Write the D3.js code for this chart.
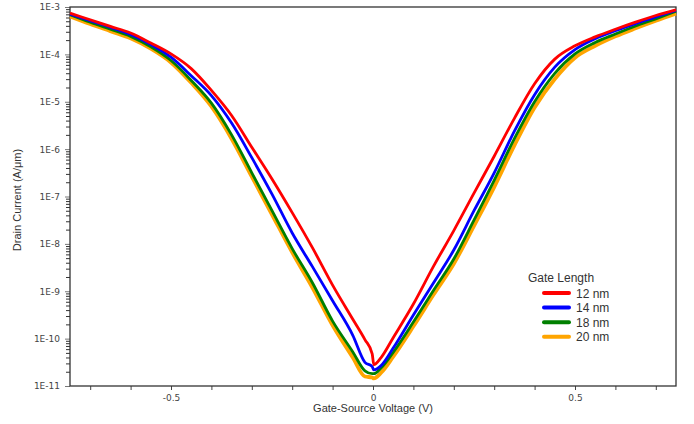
<!DOCTYPE html>
<html>
<head>
<meta charset="utf-8">
<script src="https://cdn.jsdelivr.net/npm/d3@7"></script>
<style>
  body { margin: 0; background: #fff; }
  svg { display: block; }
</style>
</head>
<body>
<svg id="chart"></svg>
<script>
// Gate-source voltage grid (V)
const voltage = [-0.75, -0.7, -0.65, -0.6, -0.55, -0.5, -0.45, -0.4, -0.35, -0.3, -0.25, -0.2, -0.15, -0.1, -0.05, -0.02, -0.002,
                 0.002, 0.02, 0.05, 0.1, 0.15, 0.2, 0.25, 0.3, 0.35, 0.4, 0.45, 0.5, 0.55, 0.6, 0.65, 0.7, 0.75];

// Drain current, log10(A/um)
const logId12 = [-3.13, -3.27, -3.41, -3.55, -3.76, -3.99, -4.30, -4.76, -5.29, -5.96, -6.63, -7.34, -8.08, -8.87, -9.59, -10.02, -10.32,
                 -10.55, -10.40, -9.98, -9.27, -8.47, -7.72, -6.93, -6.15, -5.35, -4.62, -4.10, -3.82, -3.63, -3.47, -3.32, -3.18, -3.06];
const logId14 = [-3.15, -3.29, -3.43, -3.58, -3.79, -4.06, -4.45, -4.87, -5.45, -6.18, -6.95, -7.77, -8.48, -9.20, -9.93, -10.50, -10.59,
                 -10.66, -10.57, -10.20, -9.50, -8.82, -8.13, -7.30, -6.50, -5.62, -4.85, -4.27, -3.90, -3.67, -3.50, -3.35, -3.21, -3.07];
const logId18 = [-3.16, -3.32, -3.47, -3.62, -3.84, -4.13, -4.55, -5.03, -5.70, -6.50, -7.30, -8.10, -8.82, -9.63, -10.28, -10.68, -10.74,
                 -10.74, -10.62, -10.29, -9.65, -8.98, -8.32, -7.50, -6.66, -5.78, -5.00, -4.40, -3.99, -3.75, -3.57, -3.40, -3.25, -3.09];
const logId20 = [-3.20, -3.36, -3.51, -3.66, -3.88, -4.17, -4.60, -5.10, -5.78, -6.58, -7.38, -8.18, -8.92, -9.72, -10.40, -10.80, -10.82,
                 -10.84, -10.72, -10.38, -9.74, -9.07, -8.42, -7.62, -6.80, -5.92, -5.12, -4.52, -4.07, -3.82, -3.62, -3.45, -3.29, -3.14];

const seriesNames = ["12 nm", "14 nm", "18 nm", "20 nm"];
const seriesColors = ["#ff0000", "#0000ff", "#008000", "#ffa500"];
const seriesLogs = [logId12, logId14, logId18, logId20];

const xTicks = [-0.7, -0.6, -0.5, -0.4, -0.3, -0.2, -0.1, 0, 0.1, 0.2, 0.3, 0.4, 0.5, 0.6, 0.7];
const xLabelTicks = [-0.5, 0, 0.5];
const yExponents = [-3, -4, -5, -6, -7, -8, -9, -10, -11];

const width = 694, height = 424;
const margin = {top: 7, right: 18, bottom: 38, left: 70};
const plotW = width - margin.left - margin.right;
const plotH = height - margin.top - margin.bottom;

const svg = d3.select("#chart")
    .attr("width", width)
    .attr("height", height);

const g = svg.append("g")
    .attr("transform", `translate(${margin.left},${margin.top})`);

const x = d3.scaleLinear().domain([-0.75, 0.75]).range([0, plotW]);
const y = d3.scaleLog().domain([1e-11, 1e-3]).range([plotH, 0]);

// y axis: major ticks with labels, minor ticks 2..9 per decade
const minorY = [];
yExponents.slice(0, -1).forEach(function(e) {
    for (let k = 2; k <= 9; k++) minorY.push(k * Math.pow(10, e - 1));
});

g.append("g")
    .call(d3.axisLeft(y).tickValues(minorY).tickSize(4).tickFormat(""))
    .call(a => a.select(".domain").remove())
    .selectAll("line").attr("stroke", "#333");

const yAxis = g.append("g")
    .call(d3.axisLeft(y)
        .tickValues(yExponents.map(e => Math.pow(10, e)))
        .tickSize(5)
        .tickPadding(5)
        .tickFormat(d => "1E" + Math.round(Math.log10(d))));
yAxis.select(".domain").remove();
yAxis.selectAll("line").attr("stroke", "#777");
yAxis.selectAll("text")
    .attr("font-family", "DejaVu Sans, Verdana, sans-serif")
    .attr("font-size", 9)
    .attr("fill", "#444");

// x axis
const xAxis = g.append("g")
    .attr("transform", `translate(0,${plotH})`)
    .call(d3.axisBottom(x)
        .tickValues(xTicks)
        .tickSize(4)
        .tickPadding(5)
        .tickFormat(d => xLabelTicks.some(v => Math.abs(v - d) < 1e-9) ? String(+d.toFixed(1)) : ""));
xAxis.select(".domain").remove();
xAxis.selectAll("line").attr("stroke", "#444");
xAxis.selectAll("text")
    .attr("font-family", "DejaVu Sans, Verdana, sans-serif")
    .attr("font-size", 9)
    .attr("fill", "#444");

// frame
g.append("rect")
    .attr("width", plotW)
    .attr("height", plotH)
    .attr("fill", "none")
    .attr("stroke", "#333")
    .attr("stroke-width", 1.3);

// curves, orange drawn first so green sits on it
const line = d3.line()
    .x((d, i) => x(voltage[i]))
    .y(d => y(Math.pow(10, d)))
    .curve(d3.curveMonotoneX);

const plot = g.append("g");
d3.range(seriesLogs.length - 1, -1, -1).forEach(function(s) {
    plot.append("path")
        .datum(seriesLogs[s])
        .attr("fill", "none")
        .attr("stroke", seriesColors[s])
        .attr("stroke-width", s === 3 ? 3.8 : 2.8)
        .attr("stroke-linejoin", "round")
        .attr("d", line);
});

// axis titles
svg.append("text")
    .attr("x", margin.left + x(0))
    .attr("y", 412)
    .attr("text-anchor", "middle")
    .attr("font-family", "Liberation Sans, Arial, sans-serif")
    .attr("font-size", 11)
    .attr("fill", "#333")
    .text("Gate-Source Voltage (V)");

svg.append("text")
    .attr("transform", "translate(21,200) rotate(-90)")
    .attr("text-anchor", "middle")
    .attr("font-family", "Liberation Sans, Arial, sans-serif")
    .attr("font-size", 11)
    .attr("fill", "#333")
    .text("Drain Current (A/\u03bcm)");

// legend
const legend = svg.append("g").attr("transform", "translate(528,282)");
legend.append("text")
    .attr("x", 0)
    .attr("y", 0)
    .attr("font-family", "Liberation Sans, Arial, sans-serif")
    .attr("font-size", 12)
    .attr("fill", "#333")
    .text("Gate Length");

seriesNames.forEach(function(name, i) {
    const ly = 11 + i * 14.6;
    legend.append("line")
        .attr("x1", 16).attr("x2", 41)
        .attr("y1", ly).attr("y2", ly)
        .attr("stroke", seriesColors[i])
        .attr("stroke-width", 4)
        .attr("stroke-linecap", "round");
    legend.append("text")
        .attr("x", 48)
        .attr("y", ly + 4.5)
        .attr("font-family", "Liberation Sans, Arial, sans-serif")
        .attr("font-size", 12)
        .attr("fill", "#333")
        .text(name);
});
</script>
</body>
</html>
